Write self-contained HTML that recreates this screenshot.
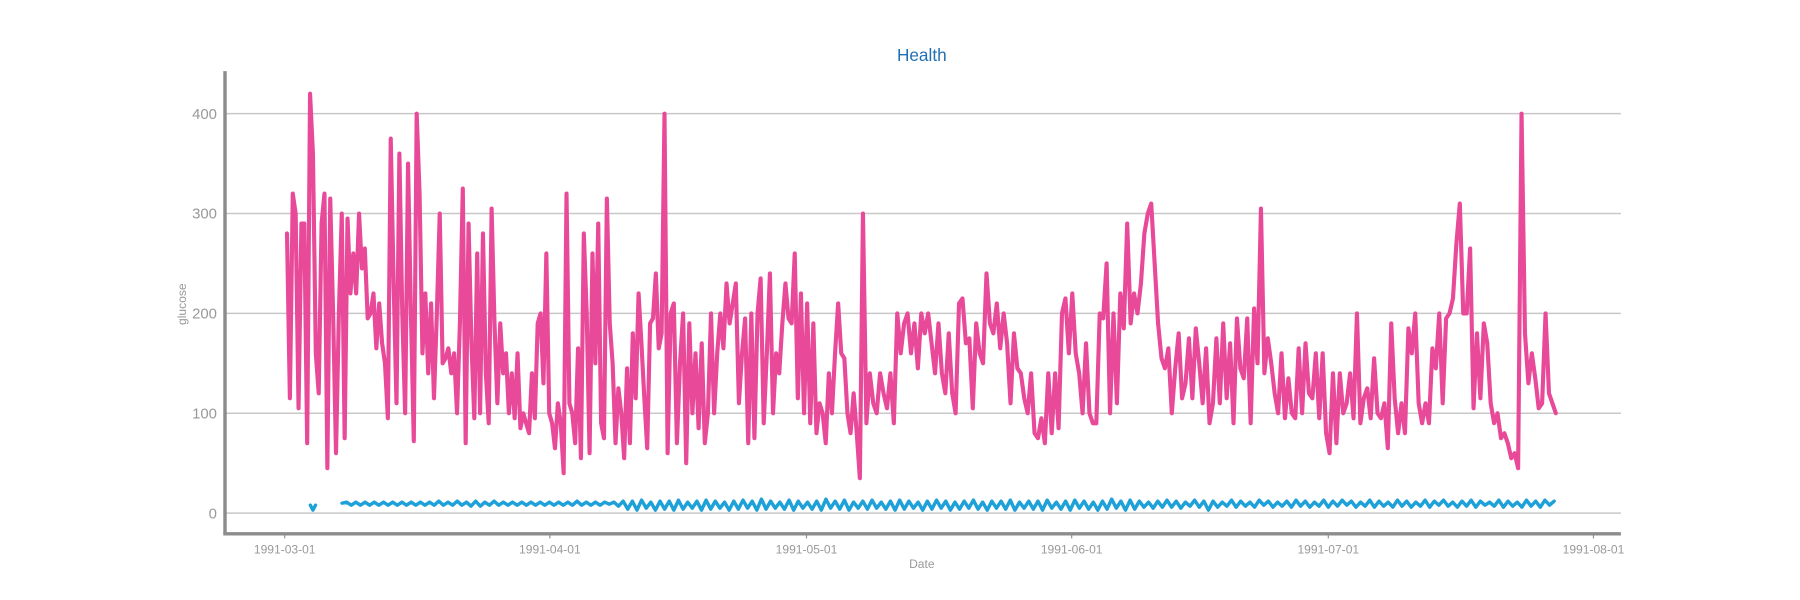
<!DOCTYPE html>
<html><head><meta charset="utf-8"><style>
html,body{margin:0;padding:0;background:#fff;}
svg{display:block;font-family:"Liberation Sans",sans-serif;}
</style></head><body>
<svg id="chart" width="1800" height="600" viewBox="0 0 1568 522.67" xmlns="http://www.w3.org/2000/svg">
<text x="803" y="53" text-anchor="middle" font-size="15" fill="#1f6fb2">Health</text>
<g id="grid"></g>
<g id="series"></g>
<g id="axes"></g>
<text x="803" y="495" text-anchor="middle" font-size="10.5" fill="#999">Date</text>
<text transform="translate(162,265) rotate(-90)" text-anchor="middle" font-size="10.5" fill="#999">glucose</text>
</svg>
<script>
const yTicks = [0, 100, 200, 300, 400];
const xTickLabels = ["1991-03-01","1991-04-01","1991-05-01","1991-06-01","1991-07-01","1991-08-01"];
const startDate = "1991-03-01";
const pinkA = [280,115,320,300,105,290,290,70,420,360,160,120,290,320,45,315,200,60,200,300,75,295,220,260,220,300,245,265,195,200,220,165,210,170,150,95,375,230,110,360,200,100,350,200,72,400,320,160,220,140,210,115,200,300,150,155,165,140,160,100,190,325,70,290,170,95,260,100,280,140,90,305,190,110,190,140,160,100,140,95,160,85,100,90,80,140,95,190,200,130,260,100,90,65,110,90,40,320,110,100,70,165,55,280,200,60,260,150,290,90,75,315,190,150,70,125,100,55,145,70,180,115,220,170,115,65,190,195,240,165,180,400];
const pinkADays = [0.27, 44.4];
const pinkB = [400,60,200,210,70,150,200,50,190,100,160,85,170,70,100,200,100,160,200,165,230,190,210,230,110,160,195,70,200,75,200,235,90,160,240,100,160,140,190,230,195,190,260,115,220,100,210,90,190,80,110,100,70,140,100,160,210,160,155,100,80,120,80,35,300];
const pinkBDays = [44.4, 67.6];
const pinkC = [300,90,140,110,100,140,120,105,140,90,200,160,190,200,160,190,145,200,180,200,170,140,190,140,120,180,120,100,210,215,170,175,105,190,160,150,240,190,180,210,165,200,170,110,180,145,140,115,100,140,80,75,95,70,140,80,140,85,200,215,160,220,160,140,100,170,100,90,90,200,195,250,100,200,110,220,185,290,190,220,200,230,280,300,310];
const pinkCDays = [67.6, 101.3];
const pinkD = [310,250,190,155,145,165,100,145,180,115,130,175,115,185,150,110,165,90,110,175,110,190,115,170,90,195,145,135,195,90,205,150,305,140,175,150,120,100,160,95,135,100,95,165,100,170,120,115,160,95,160,80,60,140,70,140,100,110,140,95,200,90,115,125,95,155,100,95,110,65,190,115,80,110,80,185,160,200,110,90,110,90,165,145,200,110,195,200,215,270,310,200,200,265,105,180,115,190,170,110,90,100,75,80,70,55,60,45,400,180,130,160,135,105,110,200,120,110,100];
const pinkDDays = [101.3, 148.6];
const blueSegA = [8,3,8];
const blueSegADays = [3.0, 3.6];
const blueValues = [10,11,8,11,8,11,8,11,8,11,8,11,8,11,8,11,8,11,8,11,8,12,8,11,8,12,8,11,7,12,7,11,8,12,8,11,8,11,8,11,8,11,8,11,8,11,8,11,8,11,8,12,8,11,8,11,8,11,9,11,7,12,4,12,3,13,5,11,3,12,4,12,3,13,4,11,5,12,3,13,4,12,5,11,3,12,4,13,5,12,3,14,4,12,5,11,4,13,3,12,5,11,4,12,3,14,5,12,4,13,3,11,5,12,4,13,5,11,4,12,3,13,4,12,5,11,3,12,4,13,5,12,3,11,4,12,5,13,4,11,3,12,5,12,4,13,3,11,5,12,4,12,3,13,5,11,4,12,3,13,5,12,4,11,3,12,4,14,5,12,3,13,4,12,6,11,5,12,6,13,6,12,5,11,7,13,6,12,3,12,6,11,7,13,6,12,7,11,6,13,8,12,6,11,7,12,6,13,7,12,6,11,7,13,6,12,7,13,8,12,6,11,7,13,6,12,7,11,6,13,7,12,6,11,7,13,6,12,8,13,7,11,6,12,7,13,6,12,8,11,7,13,6,12,7,11,6,13,7,12,6,13,8,12];
const blueDays = [6.7, 148.4];

const X0 = 248, PX_PER_DAY = 7.4516, Y0 = 447, PX_PER_UNIT = 0.87;
const PL = 196, PR = 1412, PB = 465, PT = 62;
function dayOf(s){ return (Date.parse(s) - Date.parse(startDate)) / 86400000; }
function xScale(day){ return X0 + day * PX_PER_DAY; }
function yScale(v){ return Y0 - v * PX_PER_UNIT; }
const NS = "http://www.w3.org/2000/svg";
function mk(tag, parent){ const e = document.createElementNS(NS, tag); parent.appendChild(e); return e; }

const grid = document.getElementById('grid');
yTicks.forEach(t => {
  const l = mk('line', grid);
  
  
  l.setAttribute('x1', PL); l.setAttribute('x2', PR);
  l.setAttribute('y1', yScale(t)); l.setAttribute('y2', yScale(t));
  l.setAttribute('stroke', '#c8c8c8'); l.setAttribute('stroke-width', '1.3');
  const tx = mk('text', grid);
  
  
  tx.setAttribute('x', 189); tx.setAttribute('y', yScale(t) + 4.5);
  tx.setAttribute('text-anchor', 'end'); tx.setAttribute('font-size', '13');
  tx.setAttribute('fill', '#999');
  tx.textContent = t;
});

const axes = document.getElementById('axes');
const ya = mk('line', axes);


ya.setAttribute('x1', PL); ya.setAttribute('x2', PL); ya.setAttribute('y1', PT); ya.setAttribute('y2', PB);
ya.setAttribute('stroke', '#8c8c8c'); ya.setAttribute('stroke-width', '3');
const xa = mk('line', axes);


xa.setAttribute('x1', PL - 1.5); xa.setAttribute('x2', PR); xa.setAttribute('y1', PB); xa.setAttribute('y2', PB);
xa.setAttribute('stroke', '#8c8c8c'); xa.setAttribute('stroke-width', '3');
xTickLabels.forEach(s => {
  const x = xScale(dayOf(s));
  const tk = mk('line', axes);
  
  
  tk.setAttribute('x1', x); tk.setAttribute('x2', x); tk.setAttribute('y1', PB); tk.setAttribute('y2', PB + 4);
  tk.setAttribute('stroke', '#8c8c8c'); tk.setAttribute('stroke-width', '1');
  const tx = mk('text', axes);
  
  
  tx.setAttribute('x', x); tx.setAttribute('y', 482);
  tx.setAttribute('text-anchor', 'middle'); tx.setAttribute('font-size', '10.5');
  tx.setAttribute('fill', '#999');
  tx.textContent = s;
});

function pts(vals, days){
  const n = vals.length, d0 = days[0], d1 = days[1];
  return vals.map((v, i) => xScale(d0 + (d1 - d0) * i / (n - 1)).toFixed(2) + ',' + yScale(v).toFixed(2)).join(' ');
}
const series = document.getElementById('series');
const pinkPts = [pts(pinkA, pinkADays), pts(pinkB, pinkBDays), pts(pinkC, pinkCDays), pts(pinkD, pinkDDays)].join(' ');
const pink = mk('polyline', series);


pink.setAttribute('points', pinkPts);
pink.setAttribute('fill', 'none'); pink.setAttribute('stroke', '#e84a99');
pink.setAttribute('stroke-width', '3.6'); pink.setAttribute('stroke-linejoin', 'round'); pink.setAttribute('stroke-linecap', 'round');
const blueA = mk('polyline', series);


blueA.setAttribute('points', pts(blueSegA, blueSegADays));
blueA.setAttribute('fill', 'none'); blueA.setAttribute('stroke', '#1ea0d8');
blueA.setAttribute('stroke-width', '3'); blueA.setAttribute('stroke-linejoin', 'round'); blueA.setAttribute('stroke-linecap', 'round');
const blue = mk('polyline', series);


blue.setAttribute('points', pts(blueValues, blueDays));
blue.setAttribute('fill', 'none'); blue.setAttribute('stroke', '#1ea0d8');
blue.setAttribute('stroke-width', '3'); blue.setAttribute('stroke-linejoin', 'round'); blue.setAttribute('stroke-linecap', 'round');
</script>
</body></html>
